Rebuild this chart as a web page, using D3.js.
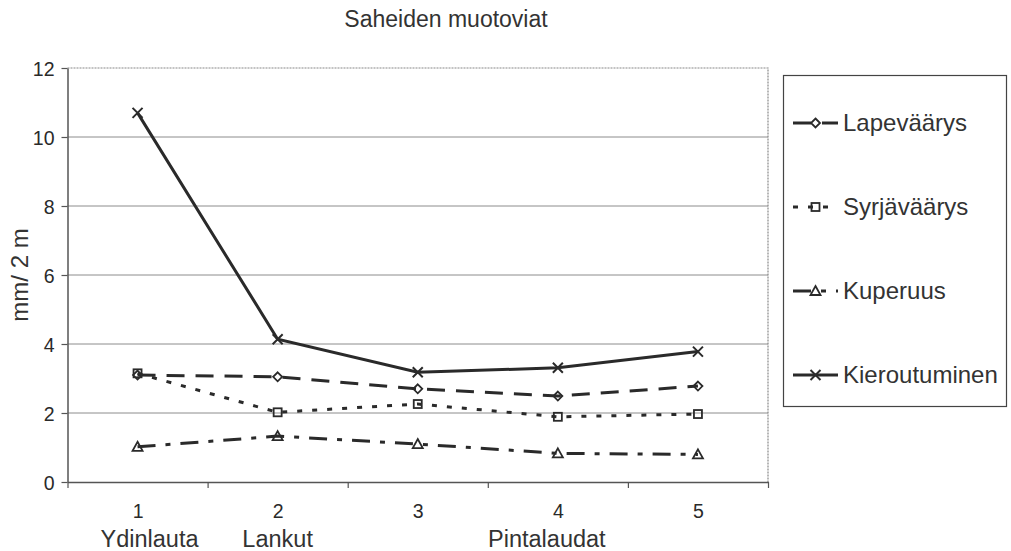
<!DOCTYPE html>
<html>
<head>
<meta charset="utf-8">
<script src="https://cdn.jsdelivr.net/npm/d3@7"></script>
<style>
    body { margin: 0; background: #fff; }
    text { font-family: "Liberation Sans", Arial, sans-serif; fill: #333; }
</style>
</head>
<body>
<div id="chart"></div>
<script>
// Chart data
const categories = [1, 2, 3, 4, 5];
const groupLabels = ['Ydinlauta', 'Lankut', '', 'Pintalaudat', ''];
const seriesNames = ['Lapeväärys', 'Syrjäväärys', 'Kuperuus', 'Kieroutuminen'];
const lapevaarys = [3.1, 3.05, 2.7, 2.49, 2.78];
const syrjavaarys = [3.15, 2.02, 2.26, 1.89, 1.97];
const kuperuus = [1.02, 1.33, 1.1, 0.83, 0.8];
const kieroutuminen = [10.7, 4.14, 3.18, 3.31, 3.78];
const yTicks = [0, 2, 4, 6, 8, 10, 12];

// Chart dimensions
const width = 1011, height = 551;
const plot = { left: 67.5, right: 768, top: 68, bottom: 482 };

const ink = '#2a2a2a';

// Line styles per series
const styles = {
    'Lapeväärys': { dash: '18,11', marker: 'diamond', values: lapevaarys },
    'Syrjäväärys': { dash: '5,10', marker: 'square', values: syrjavaarys },
    'Kuperuus': { dash: '18,10,5,10', marker: 'triangle', values: kuperuus },
    'Kieroutuminen': { dash: null, marker: 'cross', values: kieroutuminen }
};

const svg = d3.select('#chart')
    .append('svg')
    .attr('width', width)
    .attr('height', height);

// Scales
const x = d3.scaleLinear()
    .domain([0.5, 5.5])
    .range([plot.left, plot.right]);

const y = d3.scaleLinear()
    .domain([0, 12])
    .range([plot.bottom, plot.top]);

// Title
svg.append('text')
    .attr('x', 446)
    .attr('y', 27)
    .attr('text-anchor', 'middle')
    .style('font-size', '23px')
    .text('Saheiden muotoviat');

// Gridlines
svg.append('g')
    .selectAll('line')
    .data(yTicks.filter(d => d > 0 && d < 12))
    .enter()
    .append('line')
    .attr('x1', plot.left)
    .attr('x2', plot.right)
    .attr('y1', d => y(d))
    .attr('y2', d => y(d))
    .attr('stroke', '#8c8c8c')
    .attr('stroke-width', 1);

// Top and right border of plot area
svg.append('path')
    .attr('d', `M${plot.left},${y(12)}H${plot.right}V${plot.bottom}`)
    .attr('fill', 'none')
    .attr('stroke', '#888')
    .attr('stroke-width', 1.2)
    .attr('stroke-dasharray', '2,1');

// Y axis
const yAxis = svg.append('g')
    .attr('transform', `translate(${plot.left},0)`)
    .call(d3.axisLeft(y).tickValues(yTicks).tickSize(6).tickSizeOuter(0).tickPadding(7));
yAxis.select('.domain').attr('stroke', '#555').attr('stroke-width', 1.5);
yAxis.selectAll('.tick line').attr('stroke', '#555').attr('stroke-width', 1.2);
yAxis.selectAll('.tick text')
    .style('font-size', '19.5px')
    .style('fill', ink)
    .attr('dy', '0.36em');

// X axis ticks at category boundaries
const xAxis = svg.append('g')
    .attr('transform', `translate(0,${plot.bottom})`)
    .call(d3.axisBottom(x)
        .tickValues(d3.range(0.5, 6, 1))
        .tickFormat('')
        .tickSize(6)
        .tickSizeOuter(0));
xAxis.select('.domain').attr('stroke', '#555').attr('stroke-width', 1.5);
xAxis.selectAll('.tick line').attr('stroke', '#555').attr('stroke-width', 1.2);

// Category labels
const catAxis = svg.append('g')
    .attr('transform', `translate(0,${plot.bottom})`)
    .call(d3.axisBottom(x).tickValues(categories).tickSize(0).tickPadding(22).tickFormat(d3.format('d')));
catAxis.select('.domain').remove();
catAxis.selectAll('.tick text').style('font-size', '19.5px').style('fill', ink);

// Group labels below category numbers
const groupOffsets = [12, 0, 0, -11, 0];
svg.append('g')
    .selectAll('text')
    .data(categories)
    .enter()
    .append('text')
    .attr('x', (d, i) => x(d) + groupOffsets[i])
    .attr('y', 547)
    .attr('text-anchor', 'middle')
    .style('font-size', '23.5px')
    .text((d, i) => groupLabels[i]);

// Y axis title
svg.append('text')
    .attr('transform', 'translate(28,275) rotate(-90)')
    .attr('text-anchor', 'middle')
    .style('font-size', '24px')
    .text('mm/ 2 m');

// Marker drawing helper
function drawMarker(g, type, cx, cy) {
    if (type === 'diamond') {
        g.append('path')
            .attr('d', `M${cx},${cy - 4.5}L${cx + 4.5},${cy}L${cx},${cy + 4.5}L${cx - 4.5},${cy}Z`)
            .attr('fill', 'none').attr('stroke', ink).attr('stroke-width', 1.8);
    } else if (type === 'square') {
        g.append('rect')
            .attr('x', cx - 4).attr('y', cy - 4)
            .attr('width', 8).attr('height', 8)
            .attr('fill', 'none').attr('stroke', ink).attr('stroke-width', 1.8);
    } else if (type === 'triangle') {
        g.append('path')
            .attr('d', `M${cx},${cy - 5}L${cx + 5},${cy + 4}L${cx - 5},${cy + 4}Z`)
            .attr('fill', 'none').attr('stroke', ink).attr('stroke-width', 1.8);
    } else {
        g.append('path')
            .attr('d', `M${cx - 5},${cy - 5}L${cx + 5},${cy + 5}M${cx + 5},${cy - 5}L${cx - 5},${cy + 5}`)
            .attr('fill', 'none').attr('stroke', ink).attr('stroke-width', 2);
    }
}

// Draw series lines
const line = d3.line()
    .x((d, i) => x(categories[i]))
    .y(d => y(d));

seriesNames.forEach(name => {
    const s = styles[name];
    const g = svg.append('g');
    g.append('path')
        .datum(s.values)
        .attr('fill', 'none')
        .attr('stroke', ink)
        .attr('stroke-width', 3)
        .attr('stroke-dasharray', s.dash)
        .attr('d', line);
    s.values.forEach((v, i) => drawMarker(g, s.marker, x(categories[i]), y(v)));
});

// Legend
const legend = svg.append('g');
legend.append('rect')
    .attr('x', 783.5)
    .attr('y', 75.5)
    .attr('width', 223)
    .attr('height', 331)
    .attr('fill', 'none')
    .attr('stroke', '#444')
    .attr('stroke-width', 1.2);

const legendY = d3.scalePoint()
    .domain(seriesNames)
    .range([123, 375]);

seriesNames.forEach(name => {
    const s = styles[name];
    const ly = legendY(name);
    const item = legend.append('g');
    item.append('line')
        .attr('x1', 793)
        .attr('x2', 838)
        .attr('y1', ly)
        .attr('y2', ly)
        .attr('stroke', ink)
        .attr('stroke-width', 3)
        .attr('stroke-dasharray', s.dash);
    drawMarker(item, s.marker, 815.5, ly);
    item.append('text')
        .attr('x', 843)
        .attr('y', ly + 8)
        .style('font-size', '24px')
        .text(name);
});
</script>
</body>
</html>
